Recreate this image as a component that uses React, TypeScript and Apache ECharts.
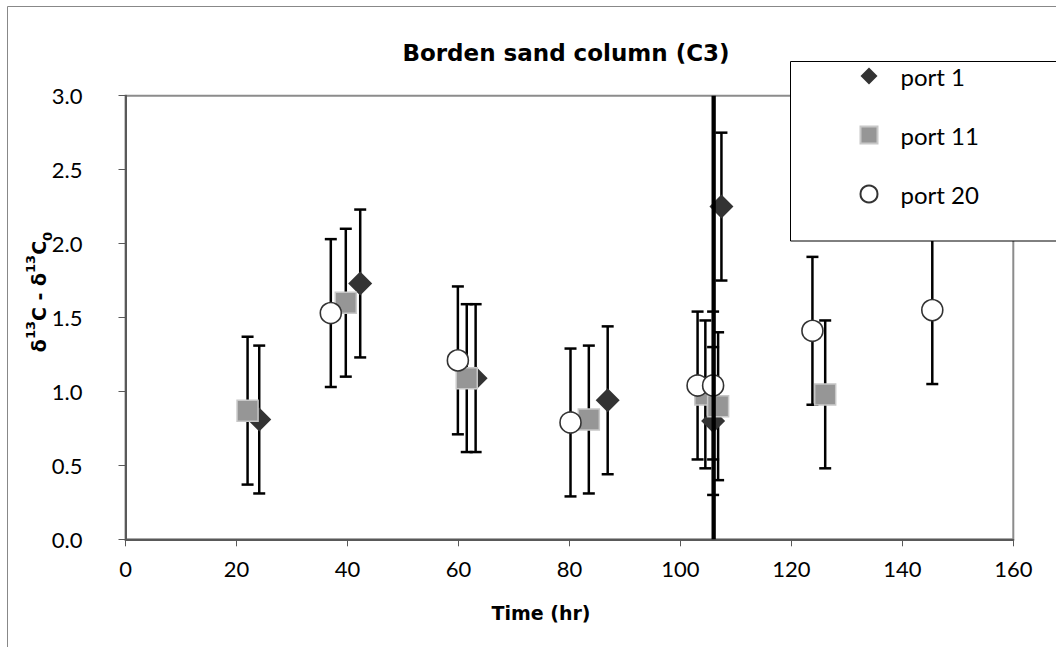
import React, { useEffect, useRef } from "react";
import * as echarts from "echarts";

// ---- data ----
const port1X = [24.1, 42.3, 63.1, 86.9, 105.9, 107.4];
const port1Y = [0.81, 1.73, 1.09, 0.94, 0.8, 2.25];
const port1Err = [0.5, 0.5, 0.5, 0.5, 0.5, 0.5];

const port11X = [22.0, 39.7, 61.5, 83.5, 104.5, 106.8, 126.1];
const port11Y = [0.87, 1.6, 1.09, 0.81, 0.98, 0.9, 0.98];
const port11Err = [0.5, 0.5, 0.5, 0.5, 0.5, 0.5, 0.5];

const port20X = [37.0, 59.9, 80.2, 103.1, 105.9, 123.8, 145.4];
const port20Y = [1.53, 1.21, 0.79, 1.04, 1.04, 1.41, 1.55];
const port20Err = [0.5, 0.5, 0.5, 0.5, 0.5, 0.5, 0.5];

const markerLineX = 106;
const markerLineY = [0, 3];

const seriesNames = ["port 1", "port 11", "port 20"];
const titleText = "Borden sand column (C3)";
const xTitle = "Time (hr)";

const FONT = "Lato";
const BOLD_FONT = "DejaVu Sans";

function points(xs: number[], ys: number[]) {
  return xs.map((x, i) => [x, ys[i]]);
}
function errPoints(xs: number[], ys: number[], es: number[]) {
  return xs.map((x, i) => [x, ys[i] - es[i], ys[i] + es[i]]);
}

function errorSeries(name: string, data: number[][]) {
  return {
    type: "custom",
    name,
    silent: true,
    data,
    encode: { x: 0, y: [1, 2] },
    renderItem: (params: any, api: any) => {
      const x = api.value(0);
      const lo = api.coord([x, api.value(1)]);
      const hi = api.coord([x, api.value(2)]);
      const hw = 6;
      const st = { stroke: "#000", lineWidth: 2.5 };
      return {
        type: "group",
        children: [
          { type: "line", shape: { x1: lo[0], y1: lo[1], x2: hi[0], y2: hi[1] }, style: st },
          { type: "line", shape: { x1: lo[0] - hw, y1: lo[1], x2: lo[0] + hw, y2: lo[1] }, style: st },
          { type: "line", shape: { x1: hi[0] - hw, y1: hi[1], x2: hi[0] + hw, y2: hi[1] }, style: st },
        ],
      };
    },
  };
}

export default function App() {
  const ref = useRef<HTMLDivElement>(null);
  useEffect(() => {
    if (!ref.current) return;
    const chart = echarts.init(ref.current, null, { renderer: "svg" });
    const option: any = {
      animation: false,
      backgroundColor: "#fff",
      textStyle: { fontFamily: FONT },
      title: {
        text: titleText,
        left: 566,
        top: 53,
        padding: 0,
        textAlign: "center",
        textVerticalAlign: "middle",
        textStyle: { fontFamily: BOLD_FONT, fontSize: 23, fontWeight: "bold", color: "#000" },
      },
      legend: {
        data: seriesNames.map((n, i) => ({ name: n, icon: ["diamond", "rect", "circle"][i] })),
        orient: "vertical",
        left: 859.5,
        top: 64,
        padding: 0,
        itemWidth: 17,
        itemHeight: 17,
        itemGap: 35,
        z: 20,
        textStyle: { fontFamily: FONT, fontSize: 24, color: "#000", padding: [0, 0, 0, 18] },
      },
      grid: {
        left: 125.5,
        right: 42.7,
        top: 95.7,
        bottom: 107.7,
        show: true,
        borderColor: "#8c8c8c",
        borderWidth: 2,
        backgroundColor: "transparent",
      },
      xAxis: {
        type: "value",
        min: 0,
        max: 160,
        interval: 20,
        splitLine: { show: false },
        axisLine: { show: true, onZero: false, lineStyle: { color: "#595959", width: 2 } },
        axisTick: { show: true, inside: false, length: 7, lineStyle: { color: "#595959", width: 1 } },
        axisLabel: { fontFamily: FONT, fontSize: 22, color: "#000", margin: 18 },
      },
      yAxis: {
        type: "value",
        min: 0,
        max: 3,
        interval: 0.5,
        splitLine: { show: false },
        axisLine: { show: true, onZero: false, lineStyle: { color: "#595959", width: 2 } },
        axisTick: { show: true, inside: false, length: 7, lineStyle: { color: "#595959", width: 1 } },
        axisLabel: {
          fontFamily: FONT,
          fontSize: 22,
          color: "#000",
          margin: 43,
          formatter: (v: number) => v.toFixed(1),
        },
      },
      graphic: [
        {
          type: "rect",
          shape: { x: 7.5, y: 6.5, width: 1200, height: 800 },
          style: { fill: "none", stroke: "#888", lineWidth: 1 },
          silent: true,
          z: 1,
        },
        {
          type: "rect",
          shape: { x: 790.5, y: 61.5, width: 400, height: 179.5 },
          style: { fill: "#fff", stroke: "#000", lineWidth: 1 },
          silent: true,
          z: 10,
        },
        {
          type: "text",
          x: 39,
          y: 292,
          rotation: Math.PI / 2,
          style: {
            text: "{m|δ}{s|13}{m|C - δ}{s|13}{m|C}{b|0}",
            align: "center",
            verticalAlign: "middle",
            rich: {
              m: { fontFamily: BOLD_FONT, fontSize: 19, fontWeight: "bold", fill: "#000", lineHeight: 30 },
              s: { fontFamily: BOLD_FONT, fontSize: 13, fontWeight: "bold", fill: "#000", verticalAlign: "top", lineHeight: 18 },
              b: { fontFamily: BOLD_FONT, fontSize: 13, fontWeight: "bold", fill: "#000", verticalAlign: "bottom", lineHeight: 11 },
            },
          },
          z: 5,
        },
        {
          type: "text",
          x: 541,
          y: 613,
          style: {
            text: xTitle,
            fontFamily: BOLD_FONT,
            fontSize: 19,
            fontWeight: "bold",
            fill: "#000",
            align: "center",
            verticalAlign: "middle",
          },
          z: 5,
        },
      ],
      series: [
        {
          type: "line",
          name: "marker",
          data: markerLineY.map((y) => [markerLineX, y]),
          symbol: "none",
          silent: true,
          lineStyle: { color: "#000", width: 4.3 },
        },
        errorSeries("port 1 err", errPoints(port1X, port1Y, port1Err)),
        {
          type: "scatter",
          name: seriesNames[0],
          data: points(port1X, port1Y),
          symbol: "diamond",
          symbolSize: 24,
          itemStyle: { color: "#333333", opacity: 1 },
        },
        errorSeries("port 11 err", errPoints(port11X, port11Y, port11Err)),
        {
          type: "scatter",
          name: seriesNames[1],
          data: points(port11X, port11Y),
          symbol: "rect",
          symbolSize: 21,
          itemStyle: { color: "#969696", borderColor: "#c8c8c8", borderWidth: 1.5, opacity: 1 },
        },
        errorSeries("port 20 err", errPoints(port20X, port20Y, port20Err)),
        {
          type: "scatter",
          name: seriesNames[2],
          data: points(port20X, port20Y),
          symbol: "circle",
          symbolSize: 21,
          itemStyle: { color: "#ffffff", borderColor: "#333333", borderWidth: 1.6, opacity: 1 },
        },
      ],
    };
    chart.setOption(option);
    return () => chart.dispose();
  }, []);
  return (
    <div
      ref={ref}
      style={{ position: "fixed", left: 0, top: 0, width: 1056, height: 647, background: "#fff" }}
    />
  );
}
